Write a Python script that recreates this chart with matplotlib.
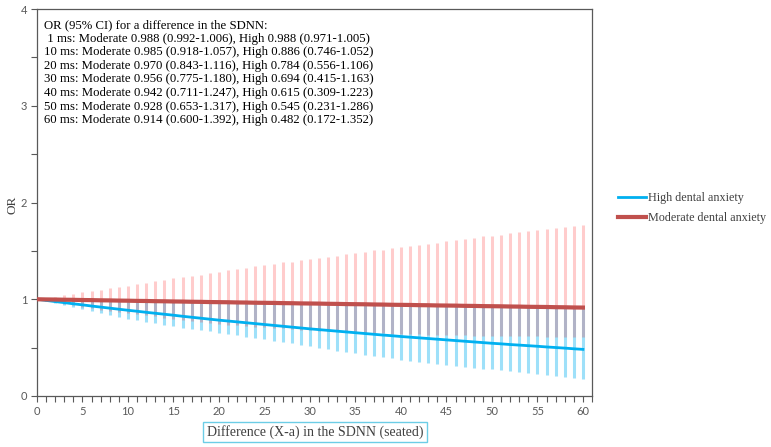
import numpy as np
import matplotlib
matplotlib.use("Agg")
import matplotlib.pyplot as plt
from matplotlib.ticker import MultipleLocator

OUT_FILE = "out.png"

# difference in SDNN (ms)
diff_ms = list(range(0, 61))

# moderate dental anxiety: OR and CI bar ends
mod_or = [1.000, 0.998, 0.997, 0.995, 0.994, 0.992, 0.991, 0.989, 0.988, 0.986, 0.985,
          0.983, 0.982, 0.980, 0.979, 0.977, 0.976, 0.974, 0.973, 0.971, 0.970,
          0.969, 0.967, 0.966, 0.964, 0.963, 0.962, 0.960, 0.959, 0.957, 0.956,
          0.955, 0.953, 0.952, 0.950, 0.949, 0.948, 0.946, 0.945, 0.943, 0.942,
          0.941, 0.939, 0.938, 0.936, 0.935, 0.934, 0.932, 0.931, 0.929, 0.928,
          0.927, 0.925, 0.924, 0.922, 0.921, 0.920, 0.918, 0.917, 0.915, 0.914]
mod_lo = [1.000, 0.985, 0.968, 0.952, 0.936, 0.920, 0.907, 0.894, 0.881, 0.868, 0.855,
          0.844, 0.833, 0.822, 0.811, 0.800, 0.789, 0.778, 0.767, 0.756, 0.745,
          0.738, 0.731, 0.724, 0.717, 0.710, 0.704, 0.698, 0.692, 0.686, 0.680,
          0.676, 0.672, 0.668, 0.664, 0.660, 0.656, 0.652, 0.648, 0.644, 0.640,
          0.638, 0.636, 0.634, 0.632, 0.630, 0.628, 0.626, 0.624, 0.622, 0.620,
          0.619, 0.618, 0.617, 0.616, 0.615, 0.614, 0.613, 0.612, 0.611, 0.610]
mod_hi = [1.000, 1.005, 1.020, 1.040, 1.050, 1.070, 1.085, 1.100, 1.115, 1.130, 1.140,
          1.160, 1.170, 1.185, 1.200, 1.215, 1.230, 1.240, 1.255, 1.270, 1.280,
          1.300, 1.310, 1.325, 1.340, 1.350, 1.365, 1.380, 1.390, 1.405, 1.420,
          1.430, 1.440, 1.450, 1.465, 1.480, 1.490, 1.505, 1.510, 1.525, 1.540,
          1.550, 1.560, 1.575, 1.585, 1.600, 1.610, 1.620, 1.635, 1.650, 1.655,
          1.665, 1.680, 1.690, 1.705, 1.720, 1.730, 1.740, 1.750, 1.760, 1.770]

# high dental anxiety
high_or = [1.000, 0.988, 0.976, 0.965, 0.953, 0.942, 0.930, 0.919, 0.908, 0.897, 0.886,
           0.876, 0.865, 0.855, 0.845, 0.835, 0.824, 0.814, 0.804, 0.794, 0.784,
           0.775, 0.766, 0.757, 0.748, 0.739, 0.730, 0.721, 0.712, 0.703, 0.694,
           0.686, 0.678, 0.670, 0.662, 0.654, 0.646, 0.638, 0.630, 0.623, 0.615,
           0.608, 0.601, 0.594, 0.587, 0.580, 0.573, 0.566, 0.559, 0.552, 0.545,
           0.539, 0.532, 0.526, 0.520, 0.514, 0.507, 0.501, 0.495, 0.488, 0.482]
high_lo = [1.000, 0.980, 0.960, 0.940, 0.920, 0.900, 0.880, 0.860, 0.840, 0.820, 0.800,
           0.784, 0.768, 0.752, 0.736, 0.720, 0.707, 0.694, 0.681, 0.668, 0.655,
           0.641, 0.627, 0.613, 0.599, 0.585, 0.571, 0.557, 0.543, 0.529, 0.515,
           0.500, 0.485, 0.470, 0.455, 0.440, 0.427, 0.414, 0.401, 0.388, 0.375,
           0.364, 0.353, 0.342, 0.331, 0.320, 0.311, 0.302, 0.293, 0.284, 0.275,
           0.265, 0.255, 0.245, 0.235, 0.225, 0.215, 0.205, 0.195, 0.185, 0.175]
high_hi = [1.00, 1.00, 1.00, 0.99, 0.99, 0.99, 0.99, 0.99, 0.99, 0.99, 0.98,
           0.98, 0.98, 0.98, 0.98, 0.98, 0.98, 0.97, 0.97, 0.97, 0.97,
           0.97, 0.97, 0.97, 0.96, 0.96, 0.96, 0.96, 0.96, 0.96, 0.96,
           0.95, 0.95, 0.95, 0.95, 0.95, 0.95, 0.95, 0.94, 0.94, 0.94,
           0.94, 0.94, 0.94, 0.94, 0.93, 0.93, 0.93, 0.93, 0.93, 0.93,
           0.93, 0.92, 0.92, 0.92, 0.92, 0.92, 0.92, 0.92, 0.92, 0.91]

summary_lines = [
    "OR (95% CI) for a difference in the SDNN:",
    " 1 ms: Moderate 0.988 (0.992-1.006), High 0.988 (0.971-1.005)",
    "10 ms: Moderate 0.985 (0.918-1.057), High 0.886 (0.746-1.052)",
    "20 ms: Moderate 0.970 (0.843-1.116), High 0.784 (0.556-1.106)",
    "30 ms: Moderate 0.956 (0.775-1.180), High 0.694 (0.415-1.163)",
    "40 ms: Moderate 0.942 (0.711-1.247), High 0.615 (0.309-1.223)",
    "50 ms: Moderate 0.928 (0.653-1.317), High 0.545 (0.231-1.286)",
    "60 ms: Moderate 0.914 (0.600-1.392), High 0.482 (0.172-1.352)",
]

SERIF = ["Liberation Serif", "DejaVu Serif"]
TICK_FONT = ["Lato", "DejaVu Sans"]
BLUE = "#00B0F0"
RED = "#C0504D"
AXIS_GREY = "#595959"

W, H = 771, 447
fig = plt.figure(figsize=(W / 100, H / 100), dpi=100)
ax = fig.add_axes([37 / W, 51 / H, (592 - 37) / W, (396 - 9) / H])

# CI bars: blue first, light red on top so the overlap turns grey-blue
ax.vlines(diff_ms, high_lo, high_hi, color=BLUE, alpha=0.38, lw=2.2, zorder=1)
ax.vlines(diff_ms, mod_lo, mod_hi, color="#FF0000", alpha=0.2, lw=2.2, zorder=2)

ax.plot(diff_ms, high_or, color=BLUE, lw=2.0, zorder=3, label="High dental anxiety")
ax.plot(diff_ms, mod_or, color=RED, lw=3.0, zorder=4, label="Moderate dental anxiety")

ax.set_xlim(0, 61)
ax.set_ylim(0, 4)
ax.xaxis.set_major_locator(MultipleLocator(5))
ax.xaxis.set_minor_locator(MultipleLocator(1))
ax.yaxis.set_major_locator(MultipleLocator(1))
ax.yaxis.set_minor_locator(MultipleLocator(0.5))
ax.tick_params(which="both", direction="out", length=4, width=0.8, color=AXIS_GREY,
               labelsize=8, labelcolor=AXIS_GREY, pad=3)
for lab in ax.get_xticklabels() + ax.get_yticklabels():
    lab.set_family(TICK_FONT)
for sp in ax.spines.values():
    sp.set_color(AXIS_GREY)
    sp.set_linewidth(0.9)

# summary text block in upper left
for i, line in enumerate(summary_lines):
    fig.text(44 / W, 1 - (25 + i * 13.6) / H, line, family=SERIF, fontsize=9.2,
             color="black", ha="left", va="center")

fig.text(12 / W, 1 - 205 / H, "OR", family=SERIF, fontsize=9.5, color="#404040",
         rotation=90, ha="center", va="center")
fig.text(315 / W, 1 - 432 / H, "Difference (X-a) in the SDNN (seated)", family=SERIF,
         fontsize=10, color="#404040", ha="center", va="center",
         bbox=dict(boxstyle="square,pad=0.25", fc="white", ec="#6CCDE6", lw=1.0))

handles, labels = ax.get_legend_handles_labels()
leg = fig.legend(handles, labels, loc="center left", bbox_to_anchor=(612 / W, 1 - 208 / H),
                 frameon=False, prop={"family": SERIF, "size": 8.7}, handlelength=2.3,
                 handletextpad=0.15, labelspacing=0.7, borderpad=0)
for t in leg.get_texts():
    t.set_color("#404040")

fig.savefig(OUT_FILE, dpi=100)
plt.close(fig)
